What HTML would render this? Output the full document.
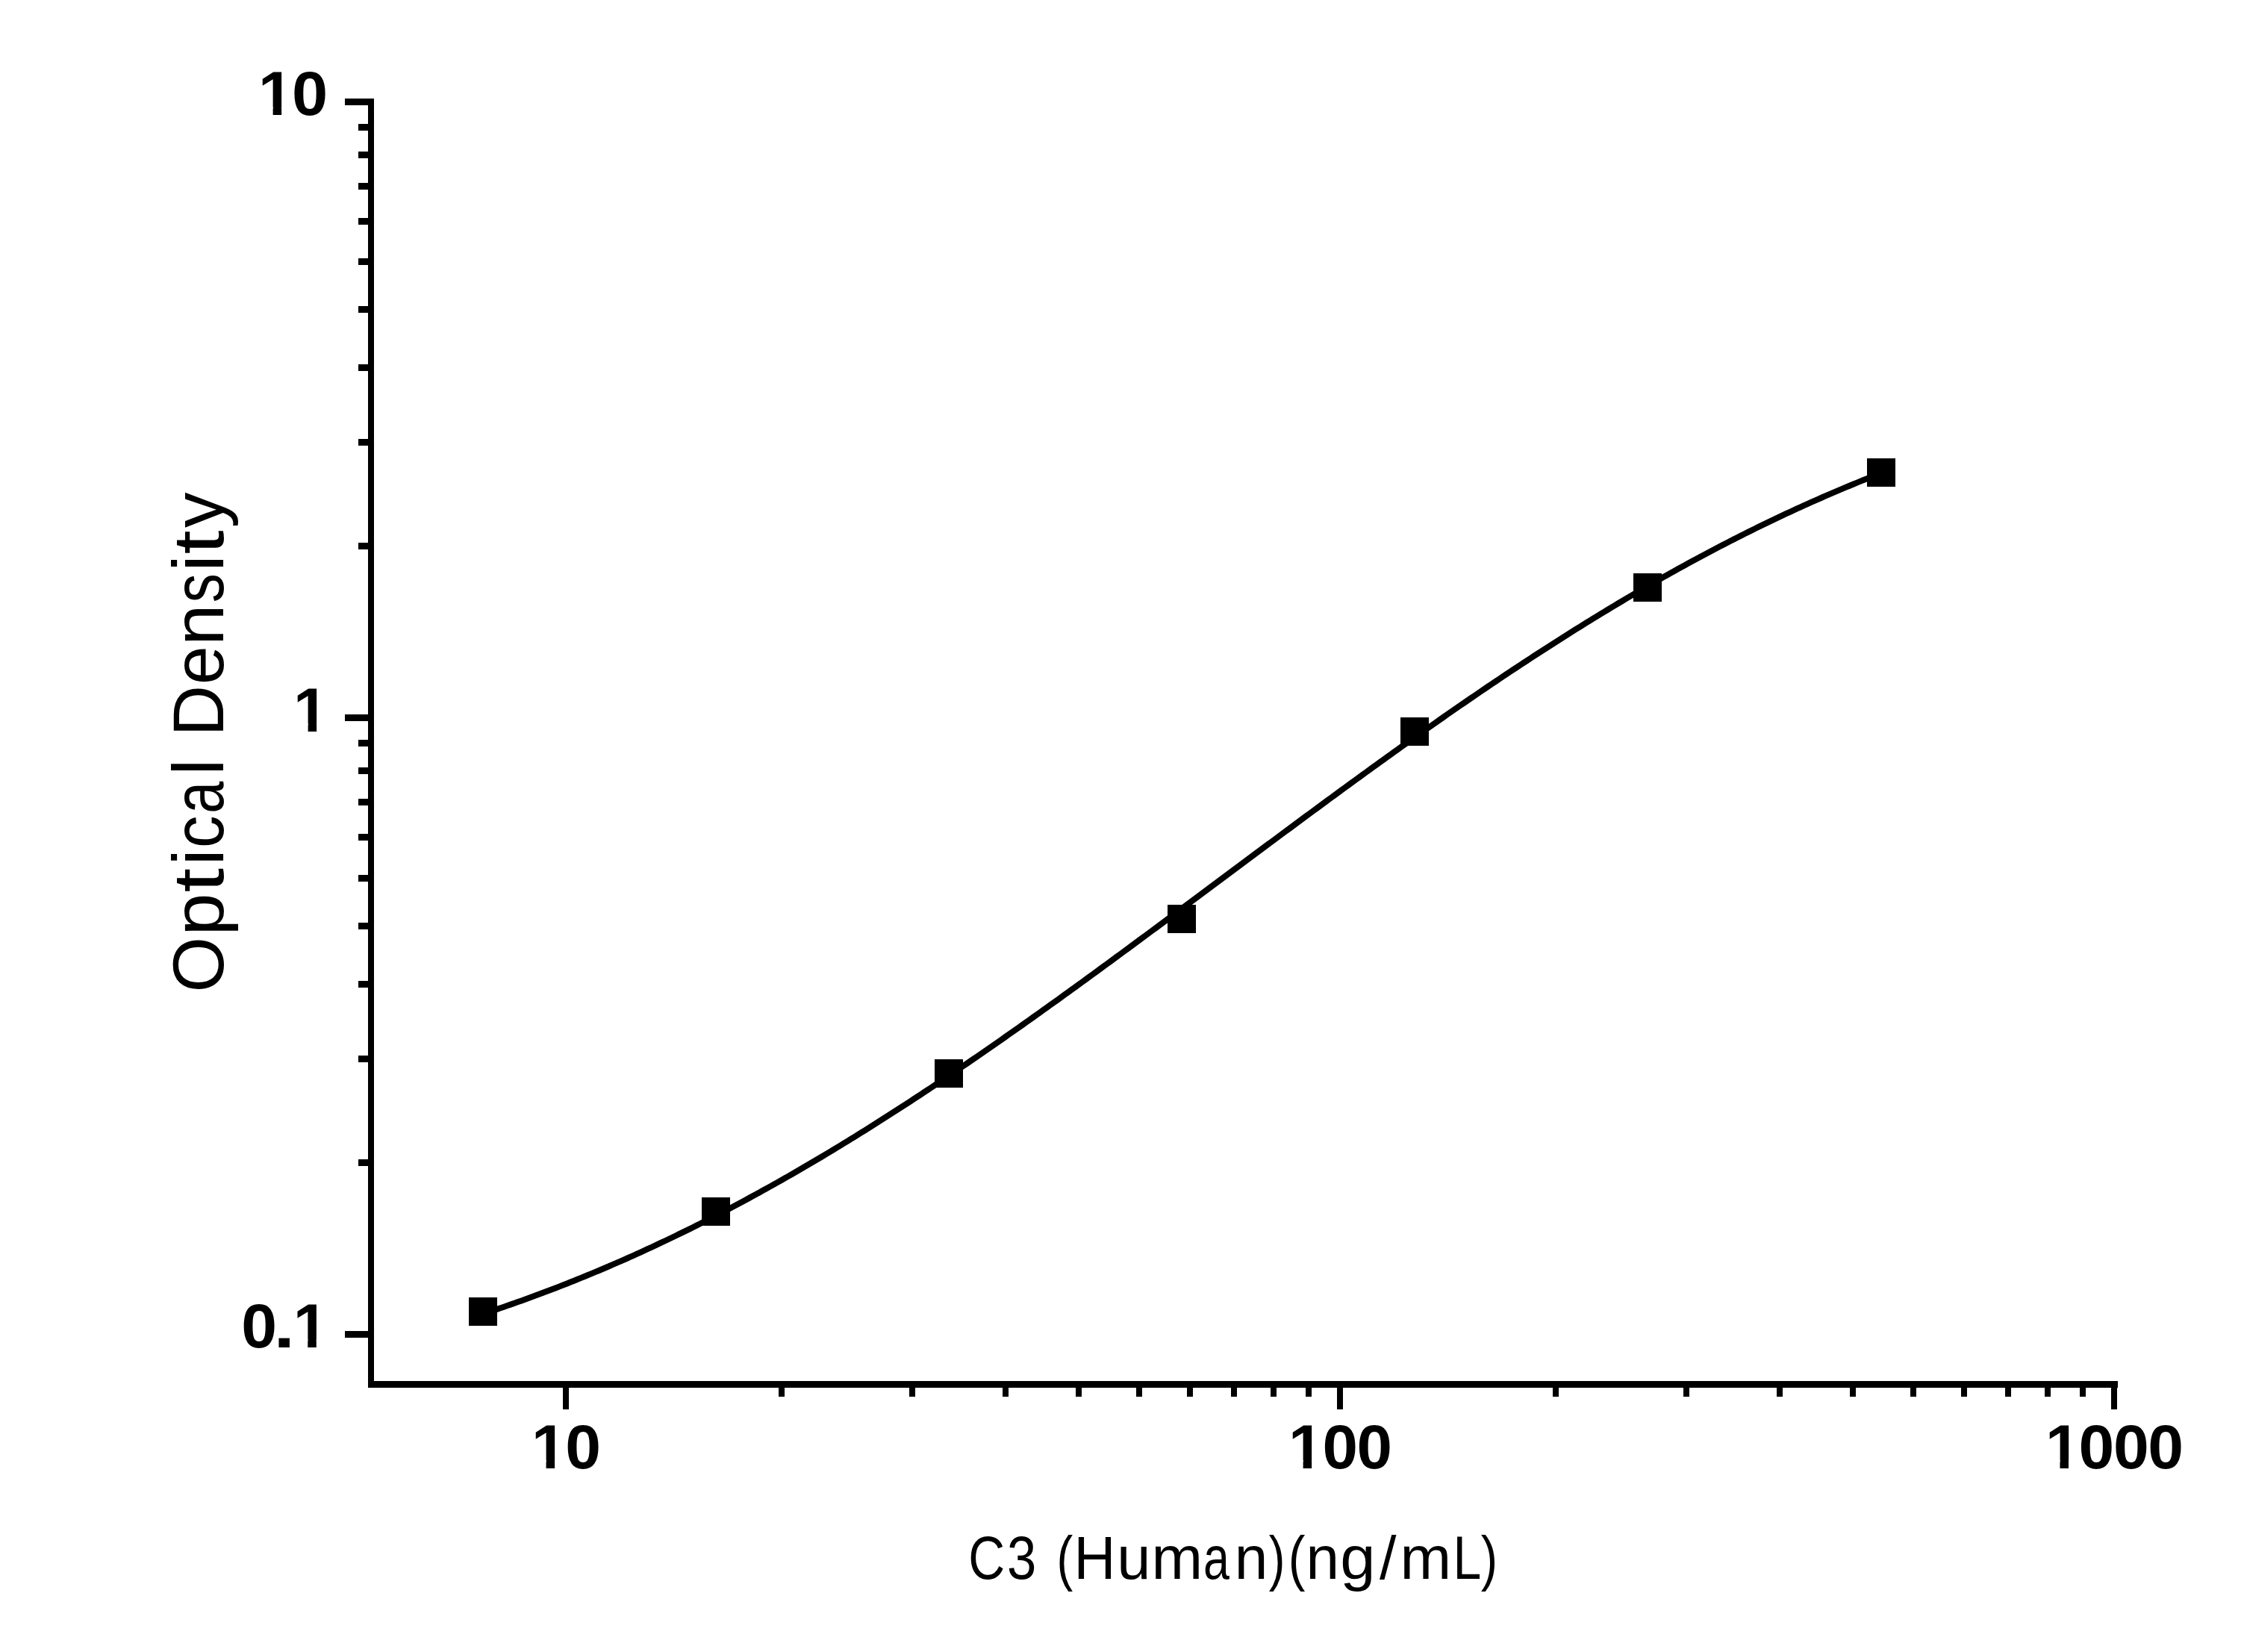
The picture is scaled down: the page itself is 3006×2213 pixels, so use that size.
<!DOCTYPE html>
<html><head><meta charset="utf-8"><title>C3 (Human) standard curve</title><style>html,body{margin:0;padding:0;background:#fff;overflow:hidden}svg{display:block}</style></head><body>
<svg width="3006" height="2213" viewBox="0 0 3006 2213">
<rect width="3006" height="2213" fill="#fff"/>
<g fill="#000" shape-rendering="crispEdges"><rect x="493" y="132" width="8" height="1727"/><rect x="493" y="1850" width="2344" height="9"/><rect x="462" y="1783" width="31" height="9"/><rect x="462" y="957" width="31" height="9"/><rect x="462" y="132" width="31" height="9"/><rect x="480" y="1553" width="13" height="9"/><rect x="480" y="1414" width="13" height="9"/><rect x="480" y="1314" width="13" height="9"/><rect x="480" y="1236" width="13" height="9"/><rect x="480" y="1172" width="13" height="9"/><rect x="480" y="1117" width="13" height="9"/><rect x="480" y="1070" width="13" height="9"/><rect x="480" y="1028" width="13" height="9"/><rect x="480" y="991" width="13" height="9"/><rect x="480" y="727" width="13" height="9"/><rect x="480" y="588" width="13" height="9"/><rect x="480" y="488" width="13" height="9"/><rect x="480" y="410" width="13" height="9"/><rect x="480" y="346" width="13" height="9"/><rect x="480" y="292" width="13" height="9"/><rect x="480" y="245" width="13" height="9"/><rect x="480" y="203" width="13" height="9"/><rect x="480" y="166" width="13" height="9"/><rect x="754" y="1859" width="8" height="29"/><rect x="1791" y="1859" width="8" height="29"/><rect x="2828" y="1859" width="8" height="29"/><rect x="1043" y="1859" width="8" height="12"/><rect x="1218" y="1859" width="8" height="12"/><rect x="1343" y="1859" width="8" height="12"/><rect x="1441" y="1859" width="8" height="12"/><rect x="1522" y="1859" width="8" height="12"/><rect x="1590" y="1859" width="8" height="12"/><rect x="1649" y="1859" width="8" height="12"/><rect x="1702" y="1859" width="8" height="12"/><rect x="1749" y="1859" width="8" height="12"/><rect x="2080" y="1859" width="8" height="12"/><rect x="2255" y="1859" width="8" height="12"/><rect x="2380" y="1859" width="8" height="12"/><rect x="2478" y="1859" width="8" height="12"/><rect x="2559" y="1859" width="8" height="12"/><rect x="2627" y="1859" width="8" height="12"/><rect x="2686" y="1859" width="8" height="12"/><rect x="2739" y="1859" width="8" height="12"/><rect x="2786" y="1859" width="8" height="12"/></g>
<polyline points="646.82,1760.15 651.52,1758.60 656.21,1757.04 660.91,1755.46 665.60,1753.88 670.29,1752.28 674.99,1750.67 679.68,1749.04 684.38,1747.40 689.07,1745.75 693.77,1744.09 698.46,1742.41 703.15,1740.73 707.85,1739.02 712.54,1737.31 717.24,1735.58 721.93,1733.84 726.63,1732.08 731.32,1730.32 736.01,1728.53 740.71,1726.74 745.40,1724.93 750.10,1723.11 754.79,1721.28 759.49,1719.43 764.18,1717.57 768.87,1715.70 773.57,1713.81 778.26,1711.91 782.96,1709.99 787.65,1708.07 792.35,1706.13 797.04,1704.17 801.73,1702.20 806.43,1700.22 811.12,1698.23 815.82,1696.22 820.51,1694.20 825.21,1692.16 829.90,1690.11 834.59,1688.05 839.29,1685.97 843.98,1683.88 848.68,1681.78 853.37,1679.66 858.06,1677.53 862.76,1675.39 867.45,1673.23 872.15,1671.06 876.84,1668.88 881.54,1666.68 886.23,1664.47 890.92,1662.25 895.62,1660.01 900.31,1657.76 905.01,1655.49 909.70,1653.22 914.40,1650.92 919.09,1648.62 923.78,1646.30 928.48,1643.97 933.17,1641.63 937.87,1639.27 942.56,1636.90 947.26,1634.51 951.95,1632.12 956.64,1629.71 961.34,1627.28 966.03,1624.85 970.73,1622.40 975.42,1619.93 980.12,1617.46 984.81,1614.97 989.50,1612.47 994.20,1609.95 998.89,1607.43 1003.59,1604.89 1008.28,1602.33 1012.98,1599.77 1017.67,1597.19 1022.36,1594.60 1027.06,1592.00 1031.75,1589.38 1036.45,1586.76 1041.14,1584.12 1045.84,1581.46 1050.53,1578.80 1055.22,1576.12 1059.92,1573.43 1064.61,1570.73 1069.31,1568.02 1074.00,1565.30 1078.69,1562.56 1083.39,1559.81 1088.08,1557.05 1092.78,1554.28 1097.47,1551.49 1102.17,1548.70 1106.86,1545.89 1111.55,1543.07 1116.25,1540.25 1120.94,1537.40 1125.64,1534.55 1130.33,1531.69 1135.03,1528.82 1139.72,1525.93 1144.41,1523.03 1149.11,1520.13 1153.80,1517.21 1158.50,1514.28 1163.19,1511.34 1167.89,1508.39 1172.58,1505.43 1177.27,1502.46 1181.97,1499.48 1186.66,1496.49 1191.36,1493.49 1196.05,1490.48 1200.75,1487.46 1205.44,1484.43 1210.13,1481.39 1214.83,1478.34 1219.52,1475.28 1224.22,1472.21 1228.91,1469.13 1233.61,1466.04 1238.30,1462.94 1242.99,1459.84 1247.69,1456.72 1252.38,1453.60 1257.08,1450.46 1261.77,1447.32 1266.47,1444.17 1271.16,1441.01 1275.85,1437.85 1280.55,1434.67 1285.24,1431.48 1289.94,1428.29 1294.63,1425.09 1299.33,1421.88 1304.02,1418.67 1308.71,1415.44 1313.41,1412.21 1318.10,1408.97 1322.80,1405.72 1327.49,1402.47 1332.18,1399.21 1336.88,1395.94 1341.57,1392.66 1346.27,1389.38 1350.96,1386.09 1355.66,1382.80 1360.35,1379.49 1365.04,1376.18 1369.74,1372.87 1374.43,1369.55 1379.13,1366.22 1383.82,1362.88 1388.52,1359.54 1393.21,1356.20 1397.90,1352.84 1402.60,1349.49 1407.29,1346.12 1411.99,1342.75 1416.68,1339.38 1421.38,1336.00 1426.07,1332.61 1430.76,1329.22 1435.46,1325.83 1440.15,1322.43 1444.85,1319.03 1449.54,1315.62 1454.24,1312.20 1458.93,1308.79 1463.62,1305.36 1468.32,1301.94 1473.01,1298.51 1477.71,1295.07 1482.40,1291.64 1487.10,1288.20 1491.79,1284.75 1496.48,1281.30 1501.18,1277.85 1505.87,1274.39 1510.57,1270.94 1515.26,1267.47 1519.96,1264.01 1524.65,1260.54 1529.34,1257.07 1534.04,1253.60 1538.73,1250.13 1543.43,1246.65 1548.12,1243.17 1552.81,1239.69 1557.51,1236.21 1562.20,1232.72 1566.90,1229.23 1571.59,1225.74 1576.29,1222.25 1580.98,1218.76 1585.67,1215.27 1590.37,1211.77 1595.06,1208.28 1599.76,1204.78 1604.45,1201.28 1609.15,1197.79 1613.84,1194.29 1618.53,1190.79 1623.23,1187.29 1627.92,1183.79 1632.62,1180.29 1637.31,1176.79 1642.01,1173.29 1646.70,1169.79 1651.39,1166.29 1656.09,1162.79 1660.78,1159.29 1665.48,1155.79 1670.17,1152.30 1674.87,1148.80 1679.56,1145.30 1684.25,1141.81 1688.95,1138.32 1693.64,1134.82 1698.34,1131.33 1703.03,1127.84 1707.73,1124.36 1712.42,1120.87 1717.11,1117.39 1721.81,1113.91 1726.50,1110.43 1731.20,1106.95 1735.89,1103.47 1740.59,1100.00 1745.28,1096.53 1749.97,1093.06 1754.67,1089.60 1759.36,1086.14 1764.06,1082.68 1768.75,1079.22 1773.44,1075.77 1778.14,1072.32 1782.83,1068.87 1787.53,1065.43 1792.22,1061.99 1796.92,1058.56 1801.61,1055.13 1806.30,1051.70 1811.00,1048.28 1815.69,1044.86 1820.39,1041.45 1825.08,1038.04 1829.78,1034.63 1834.47,1031.23 1839.16,1027.84 1843.86,1024.45 1848.55,1021.06 1853.25,1017.68 1857.94,1014.30 1862.64,1010.93 1867.33,1007.57 1872.02,1004.21 1876.72,1000.86 1881.41,997.51 1886.11,994.17 1890.80,990.83 1895.50,987.50 1900.19,984.18 1904.88,980.86 1909.58,977.55 1914.27,974.25 1918.97,970.95 1923.66,967.66 1928.36,964.38 1933.05,961.10 1937.74,957.83 1942.44,954.57 1947.13,951.31 1951.83,948.06 1956.52,944.82 1961.22,941.59 1965.91,938.37 1970.60,935.15 1975.30,931.94 1979.99,928.74 1984.69,925.54 1989.38,922.36 1994.08,919.18 1998.77,916.01 2003.46,912.85 2008.16,909.70 2012.85,906.55 2017.55,903.42 2022.24,900.29 2026.93,897.18 2031.63,894.07 2036.32,890.97 2041.02,887.88 2045.71,884.80 2050.41,881.73 2055.10,878.67 2059.79,875.62 2064.49,872.58 2069.18,869.54 2073.88,866.52 2078.57,863.51 2083.27,860.51 2087.96,857.51 2092.65,854.53 2097.35,851.56 2102.04,848.60 2106.74,845.65 2111.43,842.71 2116.13,839.77 2120.82,836.86 2125.51,833.95 2130.21,831.05 2134.90,828.16 2139.60,825.29 2144.29,822.42 2148.99,819.57 2153.68,816.72 2158.37,813.89 2163.07,811.07 2167.76,808.26 2172.46,805.47 2177.15,802.68 2181.85,799.91 2186.54,797.15 2191.23,794.40 2195.93,791.66 2200.62,788.93 2205.32,786.21 2210.01,783.51 2214.71,780.82 2219.40,778.14 2224.09,775.48 2228.79,772.82 2233.48,770.18 2238.18,767.55 2242.87,764.93 2247.56,762.33 2252.26,759.74 2256.95,757.16 2261.65,754.59 2266.34,752.03 2271.04,749.49 2275.73,746.96 2280.42,744.45 2285.12,741.94 2289.81,739.45 2294.51,736.98 2299.20,734.51 2303.90,732.06 2308.59,729.62 2313.28,727.20 2317.98,724.78 2322.67,722.38 2327.37,720.00 2332.06,717.62 2336.76,715.26 2341.45,712.92 2346.14,710.58 2350.84,708.26 2355.53,705.96 2360.23,703.66 2364.92,701.38 2369.62,699.12 2374.31,696.86 2379.00,694.62 2383.70,692.40 2388.39,690.18 2393.09,687.98 2397.78,685.80 2402.48,683.63 2407.17,681.47 2411.86,679.32 2416.56,677.19 2421.25,675.07 2425.95,672.96 2430.64,670.87 2435.34,668.79 2440.03,666.73 2444.72,664.68 2449.42,662.64 2454.11,660.62 2458.81,658.61 2463.50,656.61 2468.20,654.63 2472.89,652.65 2477.58,650.70 2482.28,648.75 2486.97,646.83 2491.67,644.91 2496.36,643.01 2501.05,641.12 2505.75,639.24 2510.44,637.38 2515.14,635.53 2519.83,633.69" fill="none" stroke="#000" stroke-width="8.0" stroke-linejoin="round"/>
<g fill="#000" shape-rendering="crispEdges"><rect x="628" y="1738" width="38" height="38"/><rect x="940" y="1604" width="38" height="38"/><rect x="1252" y="1419" width="38" height="38"/><rect x="1564" y="1212" width="38" height="38"/><rect x="1876" y="961" width="38" height="38"/><rect x="2188" y="768" width="38" height="38"/><rect x="2501" y="614" width="38" height="38"/></g>
<defs><clipPath id="nofoot"><path clip-rule="evenodd" d="M0,0H3006V2213H0ZM349.29,143.34H365.62V156.00H349.29ZM377.14,143.34H392.16V156.00H377.14ZM396.29,969.34H412.62V982.00H396.29ZM424.14,969.34H439.16V982.00H424.14ZM395.94,1794.14H412.27V1806.80H395.94ZM423.79,1794.14H438.81V1806.80H423.79ZM715.24,1956.34H731.57V1969.00H715.24ZM743.09,1956.34H758.11V1969.00H743.09ZM1729.29,1956.34H1745.62V1969.00H1729.29ZM1757.14,1956.34H1772.16V1969.00H1757.14ZM2743.14,1956.34H2759.47V1969.00H2743.14ZM2770.99,1956.34H2786.01V1969.00H2770.99Z"/></clipPath></defs>
<g clip-path="url(#nofoot)" font-family="Liberation Sans, sans-serif" font-weight="bold" font-size="84" fill="#000"><text y="154"><tspan x="346.0">1</tspan><tspan x="391.0" textLength="48.2" lengthAdjust="spacingAndGlyphs">0</tspan></text><text y="980"><tspan x="393.0">1</tspan></text><text y="1804.8"><tspan x="323.3" textLength="47.8" lengthAdjust="spacingAndGlyphs">0</tspan><tspan x="366.4" textLength="28.5" lengthAdjust="spacingAndGlyphs">.</tspan><tspan x="392.7">1</tspan></text><text y="1967"><tspan x="712.0">1</tspan><tspan x="757.3" textLength="47.8" lengthAdjust="spacingAndGlyphs">0</tspan></text><text y="1967"><tspan x="1726.0">1</tspan><tspan x="1771.5" textLength="47.5" lengthAdjust="spacingAndGlyphs">0</tspan><tspan x="1817.5" textLength="47.5" lengthAdjust="spacingAndGlyphs">0</tspan></text><text y="1967"><tspan x="2739.9">1</tspan><tspan x="2784.5" textLength="47.7" lengthAdjust="spacingAndGlyphs">0</tspan><tspan x="2831.1" textLength="47.8" lengthAdjust="spacingAndGlyphs">0</tspan><tspan x="2877.3" textLength="47.8" lengthAdjust="spacingAndGlyphs">0</tspan></text></g>
<text y="2115" font-family="Liberation Sans, sans-serif" font-size="81" fill="#000"><tspan x="1297.3" textLength="48.9" lengthAdjust="spacingAndGlyphs">C</tspan><tspan x="1349.1" textLength="39.3" lengthAdjust="spacingAndGlyphs">3</tspan><tspan> </tspan><tspan x="1415.4" textLength="21.7" lengthAdjust="spacingAndGlyphs">(</tspan><tspan x="1438.4" textLength="55.9" lengthAdjust="spacingAndGlyphs">H</tspan><tspan x="1496.2" textLength="45.2" lengthAdjust="spacingAndGlyphs">u</tspan><tspan x="1542.5" textLength="68.6" lengthAdjust="spacingAndGlyphs">m</tspan><tspan x="1612.1" textLength="34.9" lengthAdjust="spacingAndGlyphs">a</tspan><tspan x="1653.7" textLength="44.6" lengthAdjust="spacingAndGlyphs">n</tspan><tspan x="1699.8" textLength="21.7" lengthAdjust="spacingAndGlyphs">)</tspan><tspan x="1725.7" textLength="22.7" lengthAdjust="spacingAndGlyphs">(</tspan><tspan x="1749.6" textLength="44.5" lengthAdjust="spacingAndGlyphs">n</tspan><tspan x="1795.2" textLength="47.2" lengthAdjust="spacingAndGlyphs">g</tspan><tspan x="1847.9" textLength="22.5" lengthAdjust="spacingAndGlyphs">/</tspan><tspan x="1875.5" textLength="68.7" lengthAdjust="spacingAndGlyphs">m</tspan><tspan x="1946.5" textLength="37.8" lengthAdjust="spacingAndGlyphs">L</tspan><tspan x="1983.7" textLength="22.4" lengthAdjust="spacingAndGlyphs">)</tspan></text>
<text transform="translate(299.3,1400.0) rotate(-90)" y="0" font-family="Liberation Sans, sans-serif" font-size="97" fill="#000"><tspan x="70.5" textLength="74.5" lengthAdjust="spacingAndGlyphs">O</tspan><tspan x="146.3" textLength="57.3" lengthAdjust="spacingAndGlyphs">p</tspan><tspan x="204.5" textLength="32.6" lengthAdjust="spacingAndGlyphs">t</tspan><tspan x="240.4" textLength="22.2" lengthAdjust="spacingAndGlyphs">i</tspan><tspan x="264.1" textLength="43.5" lengthAdjust="spacingAndGlyphs">c</tspan><tspan x="310.2" textLength="43.0" lengthAdjust="spacingAndGlyphs">a</tspan><tspan x="361.0" textLength="22.7" lengthAdjust="spacingAndGlyphs">l</tspan><tspan> </tspan><tspan x="413.5" textLength="68.6" lengthAdjust="spacingAndGlyphs">D</tspan><tspan x="482.8" textLength="52.0" lengthAdjust="spacingAndGlyphs">e</tspan><tspan x="535.3" textLength="55.1" lengthAdjust="spacingAndGlyphs">n</tspan><tspan x="592.7" textLength="39.1" lengthAdjust="spacingAndGlyphs">s</tspan><tspan x="634.2" textLength="22.5" lengthAdjust="spacingAndGlyphs">i</tspan><tspan x="657.4" textLength="32.2" lengthAdjust="spacingAndGlyphs">t</tspan><tspan x="692.9" textLength="47.4" lengthAdjust="spacingAndGlyphs">y</tspan></text>
</svg>
</body></html>
